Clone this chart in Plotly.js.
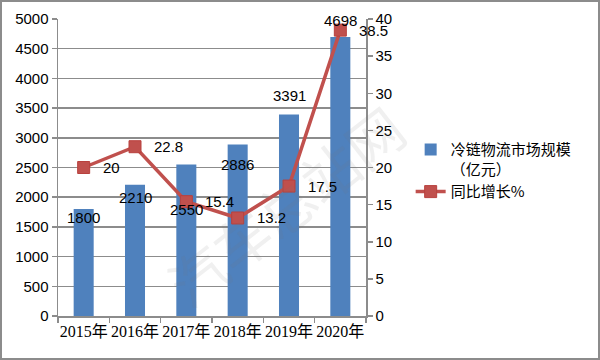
<!DOCTYPE html>
<html>
<head>
<meta charset="utf-8">
<script src="https://cdn.plot.ly/plotly-3.0.1.min.js"></script>
<style>
html,body{margin:0;padding:0;background:#fff;}
#wrap{position:relative;width:600px;height:360px;}
#chart{width:600px;height:360px;}
#frame{position:absolute;left:0;top:0;width:600px;height:360px;box-sizing:border-box;border:2px solid #8c8c8c;pointer-events:none;}
</style>
</head>
<body>
<div id="wrap"><div id="chart"></div><div id="frame"></div></div>
<script>
// Data
const years = ['2015年','2016年','2017年','2018年','2019年','2020年'];
const marketSize = [1800, 2210, 2550, 2886, 3391, 4698];
const growthPct = [20, 22.8, 15.4, 13.2, 17.5, 38.5];
const barName = '冷链物流市场规模<br>（亿元）';
const lineName = '同比增长%';

// label vertical offsets (px, style only)
const barLabelShift = [-8, -13, -45, -20, 19, 16];

const barColor = '#4F81BD';
const lineColor = '#C0504D';
const gridColor = '#8c8c8c';
const sans = '"Liberation Sans", "Noto Sans CJK SC", sans-serif';
const cjk = '"Noto Sans CJK SC", "Liberation Sans", sans-serif';
const serif = '"Liberation Serif", "Noto Sans CJK SC", serif';

const traces = [
  {
    type: 'bar', x: years, y: marketSize, name: barName,
    marker: {color: barColor}, width: 0.39, yaxis: 'y',
    hoverinfo: 'skip'
  },
  {
    type: 'scatter', mode: 'lines+markers', x: years, y: growthPct, name: lineName,
    yaxis: 'y2',
    line: {color: lineColor, width: 3.5},
    marker: {symbol: 'square', size: 12, color: lineColor, line: {color: '#b8413e', width: 1}},
    hoverinfo: 'skip'
  }
];

const annotations = [];
years.forEach((c, i) => {
  annotations.push({
    x: c, y: marketSize[i], xref: 'x', yref: 'y',
    text: String(marketSize[i]), showarrow: false,
    xanchor: 'center', yanchor: 'middle', yshift: barLabelShift[i],
    font: {family: sans, size: 15, color: '#000'}
  });
  annotations.push({
    x: c, y: growthPct[i], xref: 'x', yref: 'y2',
    text: String(growthPct[i]), showarrow: false,
    xanchor: 'left', yanchor: 'middle', xshift: 17,
    font: {family: sans, size: 15, color: '#000'}
  });
});
annotations.push({
  x: 0.737, y: 0.374, xref: 'paper', yref: 'paper',
  xanchor: 'center', yanchor: 'middle',
  text: '汽车总站网', showarrow: false, textangle: -38,
  font: {family: cjk, size: 56, color: 'rgba(120,120,120,0.11)'}
});

const layout = {
  width: 600, height: 360,
  margin: {l: 58, r: 234, t: 19, b: 44, autoexpand: false},
  paper_bgcolor: '#fff', plot_bgcolor: '#fff',
  showlegend: true,
  bargap: 0.6,
  xaxis: {
    type: 'category', range: [-0.5, years.length - 0.5], autorange: false,
    tickson: 'boundaries', ticks: 'outside', ticklen: 5,
    tickcolor: gridColor, tickwidth: 1.5, tickangle: 0, automargin: false,
    showline: true, linecolor: gridColor, linewidth: 1.5,
    showgrid: false, zeroline: false,
    tickfont: {family: serif, size: 16, color: '#000'}
  },
  yaxis: {
    range: [0, 5000], autorange: false, dtick: 500, tick0: 0, automargin: false,
    ticks: 'outside', ticklen: 5, tickcolor: gridColor, tickwidth: 1.5,
    showline: true, linecolor: gridColor, linewidth: 1.5,
    showgrid: true, gridcolor: gridColor, gridwidth: 1.5,
    zeroline: false,
    tickfont: {family: sans, size: 15, color: '#000'}
  },
  yaxis2: {
    overlaying: 'y', side: 'right', range: [0, 40], autorange: false, dtick: 5, tick0: 0,
    automargin: false,
    ticks: 'outside', ticklen: 5, tickcolor: gridColor, tickwidth: 1.5,
    showline: true, linecolor: gridColor, linewidth: 1.5,
    showgrid: false, zeroline: false,
    tickfont: {family: sans, size: 15, color: '#000'}
  },
  legend: {
    x: 1.145, xanchor: 'left', y: 0.615, yanchor: 'top',
    valign: 'top', tracegroupgap: 10,
    font: {family: cjk, size: 15, color: '#000'},
    bgcolor: 'rgba(0,0,0,0)'
  },
  annotations: annotations
};

Plotly.newPlot('chart', traces, layout, {staticPlot: true, displayModeBar: false});
</script>
</body>
</html>
